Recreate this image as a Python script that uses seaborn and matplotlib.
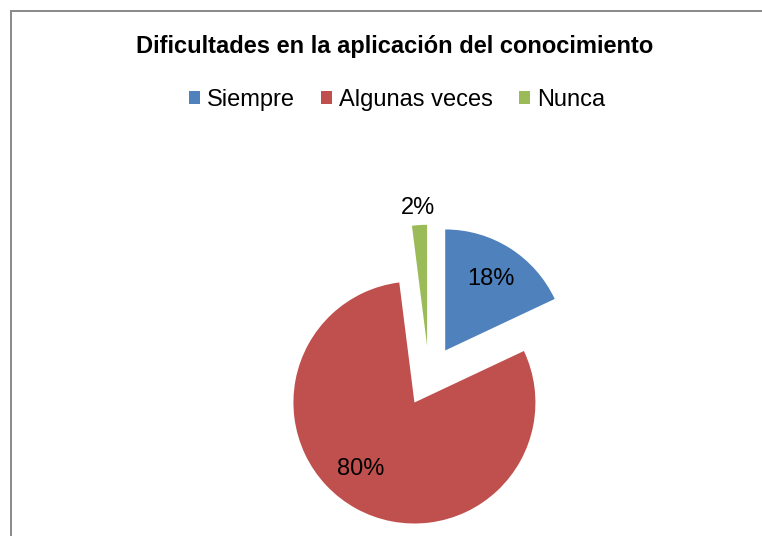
import numpy as np
import matplotlib
matplotlib.use("Agg")
import matplotlib.pyplot as plt
from matplotlib.patches import Rectangle
import seaborn as sns

# Datos
categorias = ["Siempre", "Algunas veces", "Nunca"]
porcentajes = [18, 80, 2]
titulo = "Dificultades en la aplicación del conocimiento"

colores = ["#4F81BD", "#C0504D", "#9BBB59"]

sns.set_theme(style="white")
plt.rcParams["font.family"] = ["Liberation Sans", "DejaVu Sans"]
plt.rcParams["text.color"] = "black"

W, H = 762, 536
fig = plt.figure(figsize=(W / 100, H / 100), dpi=100)
ax = fig.add_axes([0, 0, 1, 1])

# pie en coordenadas de pixel
centro = (429, 160)
radio = 121
sep = 0.25 * radio

wedges, textos, autotextos = ax.pie(
    porcentajes,
    colors=colores,
    startangle=90,
    counterclock=False,
    explode=[sep] * len(porcentajes),
    center=centro,
    radius=radio,
    autopct="%1.0f%%",
    pctdistance=0.7,
    wedgeprops=dict(linewidth=0),
    textprops=dict(fontsize=17, color="black"),
)


def mover_etiqueta(i, dist, giro=0.0):
    w = wedges[i]
    tm = np.deg2rad((w.theta1 + w.theta2) / 2 + giro)
    cx, cy = w.center
    autotextos[i].set_position((cx + dist * radio * np.cos(tm), cy + dist * radio * np.sin(tm)))


# "Nunca" afuera, "Algunas veces" un poco girada como en Excel
mover_etiqueta(2, 1.14)
mover_etiqueta(1, 0.71, giro=-10)

ax.set_xlim(0, W)
ax.set_ylim(0, H)
ax.set_aspect("equal")
ax.axis("off")

fig.text(0.518, 0.914, titulo, ha="center", va="center", fontsize=17, fontweight="bold")

fig.legend(
    wedges, categorias,
    loc="center", bbox_to_anchor=(0.521, 0.813),
    ncol=3, frameon=False, fontsize=17,
    handlelength=0.47, handleheight=0.47,
    handletextpad=0.3, columnspacing=1.1,
)

# borde del area del grafico
fig.patches.append(Rectangle((11 / W, -0.05), 1.1, (H - 11) / H + 0.05,
                             transform=fig.transFigure, fill=False,
                             edgecolor="#898989", linewidth=1.4))

fig.savefig("out.png", dpi=100)
